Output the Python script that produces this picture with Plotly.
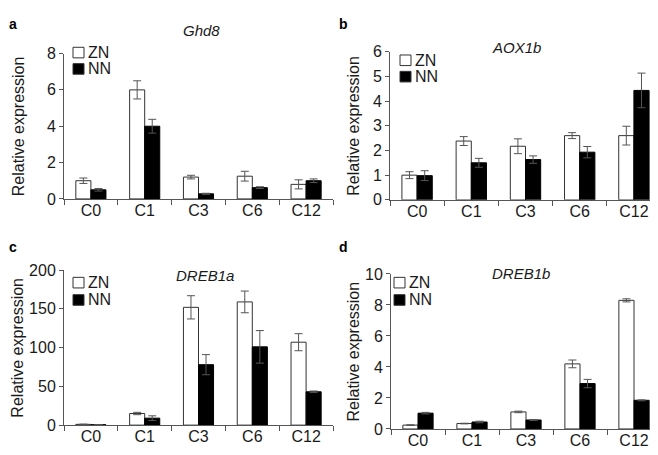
import plotly.graph_objects as go

W, H = 658, 455
categories = ["C0", "C1", "C3", "C6", "C12"]
series_names = ["ZN", "NN"]

# Panel a: Ghd8
ghd8_zn = [1.0, 6.0, 1.2, 1.25, 0.8]
ghd8_zn_err = [0.15, 0.5, 0.1, 0.27, 0.25]
ghd8_nn = [0.5, 4.0, 0.28, 0.62, 1.0]
ghd8_nn_err = [0.07, 0.38, 0.03, 0.05, 0.1]

# Panel b: AOX1b
aox_zn = [1.0, 2.38, 2.17, 2.6, 2.6]
aox_zn_err = [0.14, 0.18, 0.3, 0.12, 0.38]
aox_nn = [0.98, 1.5, 1.63, 1.93, 4.43]
aox_nn_err = [0.2, 0.18, 0.15, 0.23, 0.7]

# Panel c: DREB1a
d1a_zn = [1.0, 15.0, 152.0, 159.0, 107.0]
d1a_zn_err = [0.3, 1.5, 15.0, 14.0, 11.0]
d1a_nn = [0.5, 9.0, 78.0, 101.0, 43.0]
d1a_nn_err = [0.2, 3.0, 13.0, 21.0, 1.0]

# Panel d: DREB1b
d1b_zn = [0.25, 0.35, 1.1, 4.2, 8.3]
d1b_zn_err = [0.02, 0.02, 0.05, 0.25, 0.1]
d1b_nn = [1.02, 0.45, 0.58, 2.93, 1.85]
d1b_nn_err = [0.05, 0.05, 0.03, 0.27, 0.03]

panels = [
    dict(letter="a", gene="Ghd8", zn=ghd8_zn, zne=ghd8_zn_err, nn=ghd8_nn, nne=ghd8_nn_err,
         ymax=8, dtick=2, x=(56, 325), y=(190, 39), title_xy=(193, 15), ytitle_x=10,
         letter_xy=(5, 8), leg=(65, 38, 55)),
    dict(letter="b", gene="AOX1b", zn=aox_zn, zne=aox_zn_err, nn=aox_nn, nne=aox_nn_err,
         ymax=6, dtick=1, x=(382, 653), y=(191, 37), title_xy=(508, 33), ytitle_x=346,
         letter_xy=(335, 8), leg=(392, 46, 63)),
    dict(letter="c", gene="DREB1a", zn=d1a_zn, zne=d1a_zn_err, nn=d1a_nn, nne=d1a_nn_err,
         ymax=200, dtick=50, x=(56, 325), y=(425, 264), title_xy=(197, 270), ytitle_x=10,
         letter_xy=(5, 240), leg=(65, 277, 295)),
    dict(letter="d", gene="DREB1b", zn=d1b_zn, zne=d1b_zn_err, nn=d1b_nn, nne=d1b_nn_err,
         ymax=10, dtick=2, x=(383, 653), y=(429, 268), title_xy=(513, 268), ytitle_x=345,
         letter_xy=(335, 240), leg=(386, 277, 295)),
]

FONT = "Liberation Sans, Arial, sans-serif"
TXT = "#1a1a1a"
AX = "#555555"
FS = 16
SQ = 11

fig = go.Figure()
annotations = []
shapes = []
layout = {}

for i, p in enumerate(panels):
    n = i + 1
    xa = "x" if n == 1 else f"x{n}"
    ya = "y" if n == 1 else f"y{n}"
    fig.add_trace(go.Bar(
        x=categories, y=p["zn"], name=series_names[0], xaxis=xa, yaxis=ya, showlegend=False,
        marker=dict(color="white", line=dict(color="#333333", width=1)),
        error_y=dict(type="data", array=p["zne"], color=AX, thickness=1, width=4),
    ))
    fig.add_trace(go.Bar(
        x=categories, y=p["nn"], name=series_names[1], xaxis=xa, yaxis=ya, showlegend=False,
        marker=dict(color="black", line=dict(color="black", width=1)),
        error_y=dict(type="data", array=p["nne"], color=AX, thickness=1, width=4),
    ))
    x0, x1 = p["x"]
    yb, yt = p["y"]
    layout[("xaxis" if n == 1 else f"xaxis{n}")] = dict(
        domain=[x0 / W, x1 / W], anchor=ya, type="category",
        showline=True, linecolor=AX, linewidth=1, ticks="outside", tickson="boundaries",
        ticklen=5, tickcolor=AX, tickfont=dict(size=FS, color=TXT, family=FONT),
        ticklabelstandoff=-3,
        showgrid=False, zeroline=False, fixedrange=True,
    )
    layout[("yaxis" if n == 1 else f"yaxis{n}")] = dict(
        domain=[1 - yb / H, 1 - yt / H], anchor=xa, range=[0, p["ymax"]], dtick=p["dtick"],
        showline=True, linecolor=AX, linewidth=1, ticks="outside", ticklen=4, tickcolor=AX,
        tickfont=dict(size=FS, color=TXT, family=FONT), showgrid=False, zeroline=False,
    )
    # legend (manual, per panel)
    lx, ly1, ly2 = p["leg"]
    for nm, cy, fill in ((series_names[0], ly1, "white"), (series_names[1], ly2, "black")):
        shapes.append(dict(
            type="rect", xref="paper", yref="paper",
            x0=lx / W, x1=(lx + SQ) / W, y0=1 - (cy + SQ / 2) / H, y1=1 - (cy - SQ / 2) / H,
            fillcolor=fill, line=dict(color="#333333", width=1),
        ))
        annotations.append(dict(
            text=nm, x=(lx + SQ + 2) / W, y=1 - cy / H, xref="paper", yref="paper",
            showarrow=False, font=dict(size=FS, color=TXT, family=FONT),
            xanchor="left", yanchor="middle", xshift=0,
        ))
    tx, ty = p["title_xy"]
    annotations.append(dict(
        text=f"<i>{p['gene']}</i>", x=tx / W, y=1 - ty / H, xref="paper", yref="paper",
        showarrow=False, font=dict(size=15, color=TXT, family=FONT),
        xanchor="center", yanchor="middle",
    ))
    annotations.append(dict(
        text="Relative expression", x=p["ytitle_x"] / W, y=1 - ((yb + yt) / 2) / H,
        xref="paper", yref="paper", showarrow=False, textangle=-90,
        font=dict(size=FS, color=TXT, family=FONT), xanchor="center", yanchor="middle",
    ))
    lx_, ly_ = p["letter_xy"]
    annotations.append(dict(
        text=f"<b>{p['letter']}</b>", x=lx_ / W, y=1 - ly_ / H, xref="paper", yref="paper",
        showarrow=False, font=dict(size=14, color="black", family=FONT),
        xanchor="center", yanchor="middle",
    ))

fig.update_layout(
    width=W, height=H, margin=dict(l=0, r=0, t=0, b=0),
    paper_bgcolor="white", plot_bgcolor="white",
    barmode="group", bargap=0.44, bargroupgap=0,
    showlegend=False, annotations=annotations, shapes=shapes,
    font=dict(family=FONT, color=TXT),
    **layout,
)

fig.write_html("out.html")
